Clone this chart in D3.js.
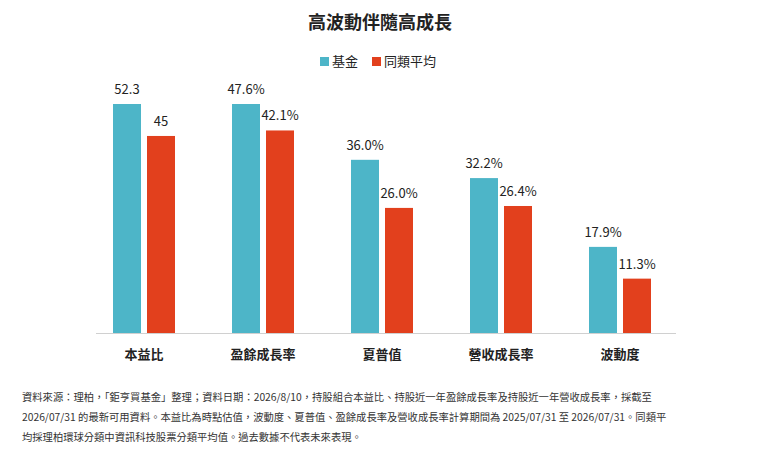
<!DOCTYPE html><html><head><meta charset="utf-8"><script src="https://cdn.jsdelivr.net/npm/d3@7"></script>
<style>body{margin:0;background:#fff;font-family:"Noto Sans CJK TC","Noto Sans",sans-serif}</style></head><body><svg id="c" width="760" height="460"></svg><script>
const categories=["本益比","盈餘成長率","夏普值","營收成長率","波動度"];
const fundValues=[52.3,47.6,36.0,32.2,17.9];
const peerValues=[45,42.1,26.0,26.4,11.3];
const fundLabels=["52.3","47.6%","36.0%","32.2%","17.9%"];
const peerLabels=["45","42.1%","26.0%","26.4%","11.3%"];
const seriesNames=["基金","同類平均"];
const colors=["#4db5c8","#e2401d"];
const notes=["資料來源：理柏，「鉅亨買基金」整理；資料日期：2026/8/10，持股組合本益比、持股近一年盈餘成長率及持股近一年營收成長率，採截至",
"2026/07/31 的最新可用資料。本益比為時點估值，波動度、夏普值、盈餘成長率及營收成長率計算期間為 2025/07/31 至 2026/07/31。同類平",
"均採理柏環球分類中資訊科技股票分類平均值。過去數據不代表未來表現。"];
const svg=d3.select("#c");
const baseY=333,topY=104;
const x=d3.scaleBand().domain(categories).range([84.5,679.5]);
const yPE=d3.scaleLinear().domain([0,52.3]).range([baseY,topY]);
const yPct=d3.scaleLinear().domain([0,47.6]).range([baseY,topY]);
const ys=i=>i===0?yPE:yPct;
svg.append("text").attr("x",380).attr("y",29).attr("text-anchor","middle").attr("font-size",18).attr("font-weight","bold").attr("fill","#222").text("高波動伴隨高成長");
const lg=[[320,"基金"],[372,"同類平均"]];
lg.forEach((l,i)=>{svg.append("rect").attr("x",l[0]).attr("y",57).attr("width",9).attr("height",9).attr("fill",colors[i]);
svg.append("text").attr("x",l[0]+12).attr("y",66).attr("font-size",13).attr("fill","#222").text(seriesNames[i]);});
svg.append("line").attr("x1",96).attr("x2",676).attr("y1",baseY+0.5).attr("y2",baseY+0.5).attr("stroke","#d0d0d0");
const bw=28,gap=6;
categories.forEach((c,i)=>{
 const cx=x(c)+x.bandwidth()/2, y=ys(i);
 [[fundValues[i],fundLabels[i],cx-gap/2-bw,0],[peerValues[i],peerLabels[i],cx+gap/2,1]].forEach(([v,l,bx,k])=>{
  svg.append("rect").attr("x",bx).attr("y",y(v)).attr("width",bw).attr("height",baseY-y(v)).attr("fill",colors[k]);
  svg.append("text").attr("x",bx+bw/2).attr("y",y(v)-10).attr("text-anchor","middle").attr("font-size",13).attr("fill","#222").text(l);
 });
 svg.append("text").attr("x",cx).attr("y",359).attr("text-anchor","middle").attr("font-size",13).attr("font-weight","bold").attr("fill","#222").text(c);
});
notes.forEach((n,i)=>svg.append("text").attr("x",22).attr("y",401+i*20).attr("font-size",10.3).attr("fill","#333").text(n));
</script></body></html>
